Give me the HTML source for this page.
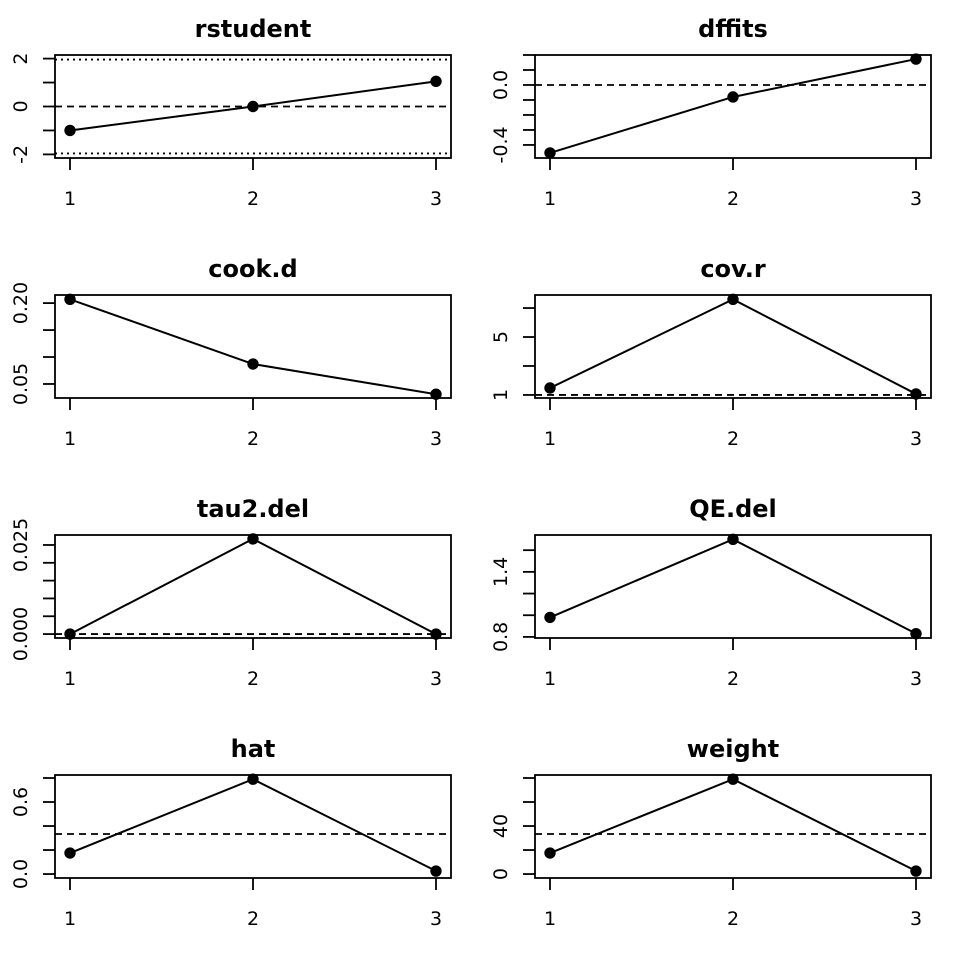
<!DOCTYPE html>
<html><head><meta charset="utf-8"><style>body{margin:0;background:#fff}svg{display:block}text{font-family:"DejaVu Sans","Liberation Sans",sans-serif}</style></head>
<body>
<svg id="c" width="960" height="960" viewBox="0 0 960 960"></svg>
<script>
const categories = [1, 2, 3];
const titles = ["rstudent","dffits","cook.d","cov.r","tau2.del","QE.del","hat","weight"];
const rstudentVals = [-1.0, 0.0, 1.05];
const dffitsVals = [-0.453, -0.08, 0.173];
const cookVals = [0.207, 0.087, 0.031];
const covrVals = [1.48, 7.6, 1.07];
const tau2Vals = [0.0, 0.0267, 0.0];
const qeVals = [0.98, 1.70, 0.83];
const hatVals = [0.175, 0.79, 0.025];
const weightVals = [17.5, 79, 2.5];
const seriesList = [rstudentVals, dffitsVals, cookVals, covrVals, tau2Vals, qeVals, hatVals, weightVals];
const yLims = [[-2.15,2.15],[-0.487,0.2],[0.024,0.215],[0.79,7.9],[-0.0011,0.0278],[0.79,1.74],[-0.033,0.825],[-3.3,82.5]];
const tickVals = [[-2,-1,0,1,2],[-0.4,-0.3,-0.2,-0.1,0,0.1,0.2],[0.05,0.1,0.15,0.2],[1,3,5,7],[0,0.005,0.01,0.015,0.02,0.025],[0.8,1.0,1.2,1.4,1.6],[0,0.2,0.4,0.6,0.8],[0,20,40,60,80]];
const tickLabels = [{"-2":"-2","0":"0","2":"2"},{"-0.4":"-0.4","0":"0.0"},{"0.05":"0.05","0.2":"0.20"},{"1":"1","5":"5"},{"0":"0.000","0.025":"0.025"},{"0.8":"0.8","1.4":"1.4"},{"0":"0.0","0.6":"0.6"},{"0":"0","40":"40"}];
const refLines = [[[0,"7,5"],[1.96,"2,4"],[-1.96,"2,4"]],[[0,"7,5"]],[],[[1,"7,5"]],[[0,"7,5"]],[],[[1/3,"7,5"]],[[100/3,"7,5"]]];

const svg = document.getElementById('c');
const NS = "http://www.w3.org/2000/svg";
function mk(tag, attrs, parent){const e=document.createElementNS(NS,tag);for(const k in attrs)e.setAttribute(k,attrs[k]);(parent||svg).appendChild(e);return e;}

for (let p=0;p<8;p++){
  const col=p%2,row=Math.floor(p/2);
  const L=55+col*480,R=L+396,T=55+row*240,B=T+103;
  const x=v=>L+15+(v-1)*183;
  const [lo,hi]=yLims[p];
  const y=v=>B-(v-lo)/(hi-lo)*(B-T);
  const g=mk('g',{});
  
  
  const t=mk('text',{x:(L+R)/2,y:T-18,'text-anchor':'middle','font-size':'24','font-weight':'bold'},g);
  t.textContent=titles[p];
  
  
  refLines[p].forEach(r=>{
    const ln=mk('line',{x1:L,x2:R,y1:y(r[0]),y2:y(r[0]),stroke:'#000','stroke-width':'1.8','stroke-dasharray':r[1]},g);
    
    
  });
  const vals=seriesList[p];
  const pl=mk('polyline',{points:vals.map((v,i)=>x(categories[i])+','+y(v)).join(' '),fill:'none',stroke:'#000','stroke-width':'2'},g);
  
  
  vals.forEach((v,i)=>{
    const c=mk('circle',{cx:x(categories[i]),cy:y(v),r:5.7,fill:'#000'},g);
    
    
  });
  const box=mk('rect',{x:L,y:T,width:R-L,height:B-T,fill:'none',stroke:'#000','stroke-width':'1.8'},g);
  
  
  categories.forEach(c=>{
    mk('line',{x1:x(c),x2:x(c),y1:B,y2:B+12,stroke:'#000','stroke-width':'1.8'},g);
    const tl=mk('text',{x:x(c),y:B+47,'text-anchor':'middle','font-size':'19'},g);
    tl.textContent=c;
    
    
  });
  tickVals[p].forEach(v=>{
    mk('line',{x1:L-12,x2:L,y1:y(v),y2:y(v),stroke:'#000','stroke-width':'1.8'},g);
    const lab=tickLabels[p][String(v)];
    if(lab!==undefined){
      const tx=L-28,ty=y(v);
      const tl=mk('text',{x:tx,y:ty,'text-anchor':'middle','font-size':'19',transform:`rotate(-90 ${tx} ${ty})`},g);
      tl.textContent=lab;
      
      
    }
  });
}
</script>
</body></html>
